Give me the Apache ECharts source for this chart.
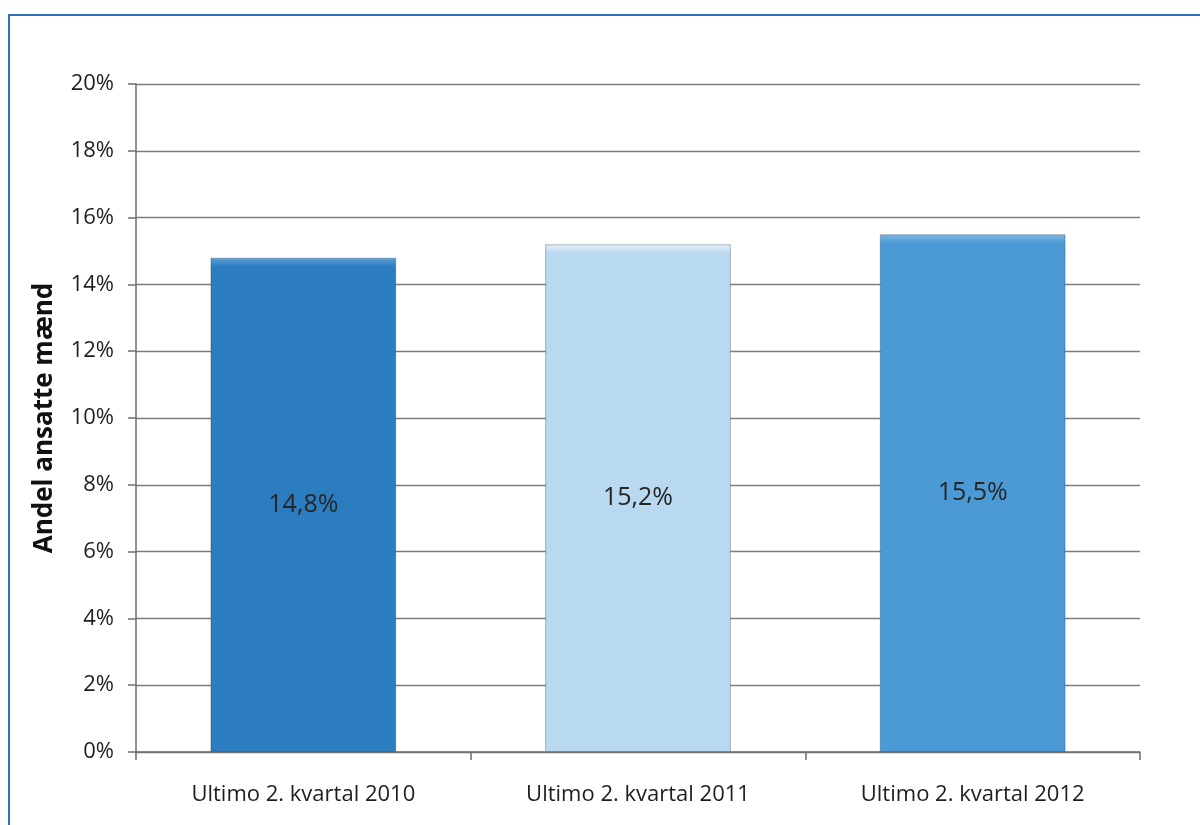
<!DOCTYPE html>
<html>
<head>
<meta charset="utf-8">
<script src="https://cdn.jsdelivr.net/npm/echarts@6/dist/echarts.min.js"></script>
<style>
  html, body { margin: 0; padding: 0; background: #ffffff; }
  #chart { width: 1200px; height: 825px; }
</style>
</head>
<body>
<div id="chart"></div>
<script>
// Andel ansatte mænd, ultimo 2. kvartal
const categories = ['Ultimo 2. kvartal 2010', 'Ultimo 2. kvartal 2011', 'Ultimo 2. kvartal 2012'];
const shares = [14.8, 15.2, 15.5];
const barColors = ['#2b7dbf', '#b9d9f1', '#4b9ad5'];
const barHighlights = ['#5fa3d8', '#e4f1fb', '#7cb8e4'];
const yTicks = { min: 0, max: 20, interval: 2 };

const font = '"Open Sans", "Noto Sans", sans-serif';

const chart = echarts.init(document.getElementById('chart'), null, { renderer: 'canvas' });

// bars get a thin lighter band along the top edge
function barFill(i) {
  return {
    type: 'linear', x: 0, y: 0, x2: 0, y2: 1,
    colorStops: [
      { offset: 0, color: barHighlights[i] },
      { offset: 0.018, color: barColors[i] },
      { offset: 1, color: barColors[i] }
    ]
  };
}

chart.setOption({
  backgroundColor: '#ffffff',
  animation: false,
  graphic: [{
    type: 'rect',
    shape: { x: 9, y: 15, width: 1220, height: 840 },
    style: { fill: 'none', stroke: '#2f72b8', lineWidth: 2 },
    silent: true
  }],
  grid: { left: 136, right: 60, top: 84, bottom: 73, containLabel: false },
  xAxis: {
    type: 'category',
    data: categories,
    axisLine: { lineStyle: { color: '#6e6e6e', width: 1.5 } },
    axisTick: { show: true, length: 8, alignWithLabel: false, lineStyle: { color: '#6e6e6e', width: 1.5 } },
    axisLabel: { color: '#1e1e1e', fontSize: 22, fontFamily: font, margin: 32 }
  },
  yAxis: {
    type: 'value',
    min: yTicks.min,
    max: yTicks.max,
    interval: yTicks.interval,
    name: 'Andel ansatte mænd',
    nameLocation: 'middle',
    nameGap: 78,
    nameRotate: 90,
    nameTextStyle: { color: '#111', fontSize: 26, fontWeight: 'bold', fontFamily: font },
    axisLine: { show: true, lineStyle: { color: '#6e6e6e', width: 1.5 } },
    axisTick: { show: true, length: 8, lineStyle: { color: '#6e6e6e', width: 1.5 } },
    axisLabel: { color: '#1e1e1e', fontSize: 22, fontFamily: font, margin: 22, formatter: v => v + '%' },
    splitLine: { show: true, lineStyle: { color: '#7c7c7c', width: 1.4 } }
  },
  series: [{
    type: 'bar',
    barWidth: '55.5%',
    data: shares.map((v, i) => ({
      value: v,
      itemStyle: {
        color: barFill(i),
        borderColor: 'rgba(40,60,90,0.35)',
        borderWidth: 1
      }
    })),
    label: {
      show: true,
      position: 'inside',
      color: '#262626',
      fontSize: 25,
      fontFamily: font,
      formatter: p => p.value.toFixed(1).replace('.', ',') + '%'
    }
  }]
});
</script>
</body>
</html>
